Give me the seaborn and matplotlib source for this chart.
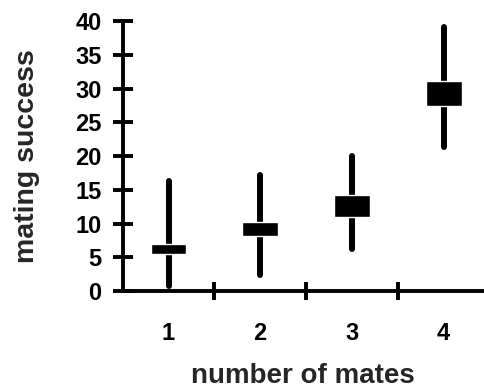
import numpy as np
import seaborn as sns
import matplotlib.pyplot as plt

# values
mates = ["1", "2", "3", "4"]
range_low = [0.8, 2.4, 6.2, 21.3]
range_high = [16.3, 17.2, 20.0, 39.2]
box_low = [5.5, 8.1, 11.0, 27.4]
box_high = [7.0, 10.2, 14.3, 31.2]

sns.set_style("ticks")
plt.rcParams["font.family"] = ["Liberation Sans", "DejaVu Sans"]
plt.rcParams["font.weight"] = "bold"

fig = plt.figure(figsize=(4.84, 3.9), dpi=100)
ax = fig.add_axes([0.2535, 0.2538, 0.7465, 0.6914])

x = np.arange(len(mates))

# Step 1. range lines
ax.vlines(x, range_low, range_high, color="black", linewidth=4.3,
          capstyle="round", zorder=2)

# Step 2. boxes
ax.bar(x, np.array(box_high) - np.array(box_low), bottom=box_low,
       width=0.39, color="black", zorder=3)

# Step 3. axes styling
ax.set_xlim(-0.5, 3.44)
ax.set_ylim(0, 40)
ax.set_yticks(range(0, 41, 5))
ax.set_xticks(x)
ax.set_xticklabels(mates)
ax.set_xticks([0.5, 1.5, 2.5], minor=True)

sns.despine(ax=ax)
for side in ["left", "bottom"]:
    ax.spines[side].set_linewidth(2.8)
    ax.spines[side].set_color("black")

ax.tick_params(axis="y", direction="inout", length=14.4, width=2.8,
               pad=8, labelsize=17, colors="black")
ax.tick_params(axis="x", which="major", length=0, pad=22,
               labelsize=17, colors="black")
ax.tick_params(axis="x", which="minor", direction="inout", length=13,
               width=2.8, color="black")

ax.set_xlabel("number of mates", fontsize=20, fontweight="bold", labelpad=13)
ax.set_ylabel("mating success", fontsize=20.5, fontweight="bold", labelpad=25)
ax.patch.set_alpha(0)

fig.savefig("out.png", dpi=100)
plt.close(fig)
